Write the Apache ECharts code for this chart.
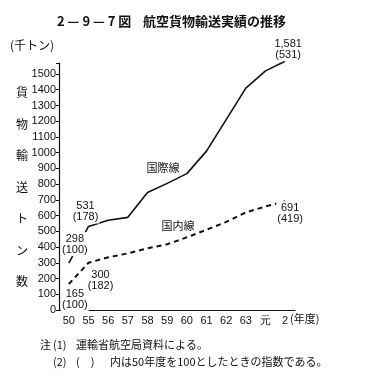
<!DOCTYPE html>
<html>
<head>
<meta charset="utf-8">
<script src="https://cdn.jsdelivr.net/npm/echarts@6/dist/echarts.min.js"></script>
<style>
  html, body { margin: 0; padding: 0; background: #fff; }
  #chart { width: 377px; height: 379px; }
</style>
</head>
<body>
<div id="chart"></div>
<script>
// 年度
const years = ['50', '55', '56', '57', '58', '59', '60', '61', '62', '63', '元', '2'];
// 国際線 (千トン)
const intlValues = [298, 531, 570, 589, 747, 805, 867, 1010, 1210, 1410, 1520, 1581];
// 国内線 (千トン)
const domValues = [165, 300, 335, 360, 392, 418, 462, 510, 560, 620, 658, 691];
// 50年度=100 の指数 (ラベルの付く点のみ)
const intlIndex = [100, 178, null, null, null, null, null, null, null, null, null, 531];
const domIndex = [100, 182, null, null, null, null, null, null, null, null, null, 419];
const yTicks = [0, 100, 200, 300, 400, 500, 600, 700, 800, 900, 1000, 1100, 1200, 1300, 1400, 1500];

const fmt = (v) => String(v).replace(/\B(?=(\d{3})+(?!\d))/g, ',');

// label offsets by year index
const intlOffset = { 0: [6, -19], 1: [-3, -15], 11: [3, -12] };
const domOffset = { 0: [6, 15], 1: [12, 18], 11: [5, 12] };

const numFont = "'Liberation Sans Narrow', 'Liberation Sans', sans-serif";
const jpFont = "'Noto Sans CJK JP', sans-serif";

const buildData = (values, idx, offsets) => values.map((v, i) => {
    if (idx[i] == null) return v;
    return {
        value: v,
        label: {
            show: true,
            position: 'inside',
            formatter: fmt(v) + '\n(' + idx[i] + ')',
            offset: offsets[i],
            color: '#111',
            fontSize: 11,
            lineHeight: 11,
            fontFamily: numFont,
            align: 'center',
            verticalAlign: 'middle',
            backgroundColor: '#fff',
            padding: [1, 1]
        }
    };
});

const chart = echarts.init(document.getElementById('chart'));
chart.setOption({
    backgroundColor: '#fff',
    animation: false,
    grid: { left: 59, right: 82, top: 63, bottom: 69 },
    xAxis: {
        type: 'category',
        data: years,
        boundaryGap: true,
        axisLine: { lineStyle: { color: '#111', width: 1.2 } },
        axisTick: { show: false },
        axisLabel: { color: '#111', fontSize: 11, margin: 5, fontFamily: numFont, interval: 0 }
    },
    yAxis: {
        type: 'value',
        min: 0,
        max: 1570,
        interval: 100,
        splitLine: { show: false },
        axisLine: { show: true, lineStyle: { color: '#111', width: 1.2 } },
        axisTick: { show: true, length: 3, lineStyle: { color: '#111' } },
        axisLabel: {
            color: '#111', fontSize: 11, margin: 3, fontFamily: numFont,
            formatter: (v) => yTicks.indexOf(v) >= 0 ? String(v) : ''
        }
    },
    series: [
        {
            name: '国際線',
            type: 'line',
            data: buildData(intlValues, intlIndex, intlOffset),
            clip: false,
            symbol: 'circle',
            symbolSize: 0,
            itemStyle: { color: '#111' },
            lineStyle: { color: '#111', width: 1.6 },
            label: { show: false },
            z: 3
        },
        {
            name: '国内線',
            type: 'line',
            data: buildData(domValues, domIndex, domOffset),
            clip: false,
            symbol: 'circle',
            symbolSize: 0,
            itemStyle: { color: '#111' },
            lineStyle: { color: '#111', width: 2, type: [5, 4] },
            label: { show: false },
            z: 3
        }
    ],
    graphic: [
        { type: 'text', left: 57, top: 15, style: { text: '2 — 9 — 7 図', font: 'bold 13px ' + jpFont, fill: '#111' } },
        { type: 'text', left: 143, top: 15, style: { text: '航空貨物輸送実績の推移', font: 'bold 13px ' + jpFont, fill: '#111' } },
        { type: 'text', left: 10, top: 39, style: { text: '(千トン)', font: '12px ' + jpFont, fill: '#111' } },
        { type: 'text', x: 22, y: 77, style: { text: '貨\n物\n輸\n送\nト\nン\n数', font: '12px ' + jpFont, lineHeight: 31.5, fill: '#111', align: 'center', verticalAlign: 'top' } },
        { type: 'text', x: 290, y: 319, style: { text: '(年度)', font: '11px ' + jpFont, fill: '#111', verticalAlign: 'middle' } },
        { type: 'text', x: 163, y: 168, style: { text: '国際線', font: '11px ' + jpFont, fill: '#111', align: 'center', verticalAlign: 'middle' } },
        { type: 'text', x: 178, y: 226, style: { text: '国内線', font: '11px ' + jpFont, fill: '#111', align: 'center', verticalAlign: 'middle' } },
        { type: 'text', x: 40, y: 345, style: { text: '注', font: '11px ' + jpFont, fill: '#111', verticalAlign: 'middle' } },
        { type: 'text', x: 53, y: 345, style: { text: '(1)', font: '11px ' + jpFont, fill: '#111', verticalAlign: 'middle' } },
        { type: 'text', x: 76, y: 345, style: { text: '運輸省航空局資料による。', font: '11px ' + jpFont, fill: '#111', verticalAlign: 'middle' } },
        { type: 'text', x: 53, y: 362, style: { text: '(2)', font: '11px ' + jpFont, fill: '#111', verticalAlign: 'middle' } },
        { type: 'text', x: 76, y: 362, style: { text: '(　)', font: '11px ' + jpFont, fill: '#111', verticalAlign: 'middle' } },
        { type: 'text', x: 110, y: 362, style: { text: '内は50年度を100としたときの指数である。', font: '11px ' + jpFont, fill: '#111', verticalAlign: 'middle' } }
    ]
});
</script>
</body>
</html>
